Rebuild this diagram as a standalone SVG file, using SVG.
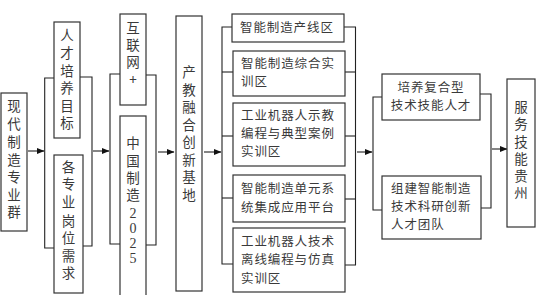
<svg xmlns="http://www.w3.org/2000/svg" width="536" height="295" viewBox="0 0 536 295">
<defs>
<style>
.box{fill:#fff;stroke:#333;stroke-width:1.2}
.ln{fill:none;stroke:#222;stroke-width:1.1}
.t{font-family:"Noto Sans CJK SC","Noto Sans",sans-serif;font-size:12.5px;letter-spacing:0.9px;fill:#3a3a3a}
.c{text-anchor:middle}
.v{font-family:"Noto Sans CJK SC","Noto Sans",sans-serif;font-size:13.5px;fill:#3a3a3a;text-anchor:middle}
.d{font-family:"Liberation Serif",serif;font-size:14px;fill:#3a3a3a;text-anchor:middle}
</style>
<marker id="ah" viewBox="0 0 8 8" refX="7.5" refY="4" markerWidth="8" markerHeight="8" markerUnits="userSpaceOnUse" orient="auto">
<path d="M0,0.8 L8,4 L0,7.2 Z" fill="#111"/>
</marker>
</defs>
<rect width="536" height="295" fill="#fff"/>

<g id="connectors">
<line class="ln" x1="28" y1="151" x2="44" y2="151" marker-end="url(#ah)"/>
<polyline class="ln" points="54,78 44.7,78 44.7,248 54,248"/>
<polyline class="ln" points="80,77 92,77 92,246 83,246"/>
<line class="ln" x1="93" y1="151" x2="109" y2="151" marker-end="url(#ah)"/>
<polyline class="ln" points="120,74 110,74 110,244 120,244"/>
<polyline class="ln" points="146,75 156,75 156,245 146,245"/>
<line class="ln" x1="158" y1="152" x2="174" y2="152" marker-end="url(#ah)"/>
<line class="ln" x1="204" y1="152" x2="221" y2="152" marker-end="url(#ah)"/>
<polyline class="ln" points="232,27 222,27 222,264 233,264"/>
<line class="ln" x1="222" y1="72" x2="233" y2="72"/>
<line class="ln" x1="222" y1="136" x2="233" y2="136"/>
<line class="ln" x1="222" y1="198" x2="233" y2="198"/>
<polyline class="ln" points="344,27 355.5,27 355.5,265 345,265"/>
<line class="ln" x1="345" y1="72" x2="355.5" y2="72"/>
<line class="ln" x1="345" y1="136" x2="355.5" y2="136"/>
<line class="ln" x1="345" y1="199" x2="355.5" y2="199"/>
<line class="ln" x1="357" y1="152" x2="372" y2="152" marker-end="url(#ah)"/>
<polyline class="ln" points="382,97 373,97 373,210 382,210"/>
<polyline class="ln" points="480,94 491,94 491,208 481,208"/>
<line class="ln" x1="492" y1="149" x2="507" y2="149" marker-end="url(#ah)"/>
</g>

<g id="n1">
<rect class="box" x="1" y="93" width="26" height="138"/>
<text class="v" x="14" y="111">现</text><text class="v" x="14" y="129">代</text><text class="v" x="14" y="147">制</text><text class="v" x="14" y="165">造</text><text class="v" x="14" y="182">专</text><text class="v" x="14" y="200">业</text><text class="v" x="14" y="217">群</text>
</g>

<g id="n2">
<rect class="box" x="54" y="22" width="26" height="116"/>
<text class="v" x="67" y="40">人</text><text class="v" x="67" y="58">才</text><text class="v" x="67" y="76">培</text><text class="v" x="67" y="93">养</text><text class="v" x="67" y="111">目</text><text class="v" x="67" y="128">标</text>
</g>

<g id="n3">
<rect class="box" x="54" y="155" width="29" height="138"/>
<text class="v" x="68.5" y="172">各</text><text class="v" x="68.5" y="189">专</text><text class="v" x="68.5" y="207">业</text><text class="v" x="68.5" y="226">岗</text><text class="v" x="68.5" y="243">位</text><text class="v" x="68.5" y="261">需</text><text class="v" x="68.5" y="278">求</text>
</g>

<g id="n4">
<rect class="box" x="120" y="14" width="26" height="91"/>
<text class="v" x="133" y="33">互</text><text class="v" x="133" y="50">联</text><text class="v" x="133" y="67">网</text><text class="v" x="133" y="84">+</text>
</g>

<g id="n5">
<rect class="box" x="120" y="116" width="26" height="185"/>
<text class="v" x="133" y="148">中</text><text class="v" x="133" y="166">国</text><text class="v" x="133" y="183">制</text><text class="v" x="133" y="200">造</text>
<text class="d" x="133" y="218">2</text><text class="d" x="133" y="233">0</text><text class="d" x="133" y="248">2</text><text class="d" x="133" y="263">5</text>
</g>

<g id="n6">
<rect class="box" x="176" y="16" width="26" height="275"/>
<text class="v" x="189" y="77">产</text><text class="v" x="189" y="95">教</text><text class="v" x="189" y="112">融</text><text class="v" x="189" y="130">合</text><text class="v" x="189" y="147">创</text><text class="v" x="189" y="165">新</text><text class="v" x="189" y="182">基</text><text class="v" x="189" y="200">地</text>
</g>

<g id="n7">
<rect class="box" x="232" y="14" width="112" height="28"/>
<text class="t" x="240" y="32">智能制造产线区</text>
</g>

<g id="n8">
<rect class="box" x="233" y="51" width="112" height="45"/>
<text class="t" x="241" y="68">智能制造综合实</text>
<text class="t" x="241" y="86">训区</text>
</g>

<g id="n9">
<rect class="box" x="233" y="103" width="112" height="63"/>
<text class="t" x="241" y="120">工业机器人示教</text>
<text class="t" x="241" y="138">编程与典型案例</text>
<text class="t" x="241" y="156">实训区</text>
</g>

<g id="n10">
<rect class="box" x="233" y="175" width="112" height="47"/>
<text class="t" x="241" y="193">智能制造单元系</text>
<text class="t" x="241" y="212">统集成应用平台</text>
</g>

<g id="n11">
<rect class="box" x="233" y="228" width="112" height="64"/>
<text class="t" x="241" y="246">工业机器人技术</text>
<text class="t" x="241" y="264">离线编程与仿真</text>
<text class="t" x="241" y="283">实训区</text>
</g>

<g id="n12">
<rect class="box" x="382" y="74" width="98" height="46"/>
<text class="t c" x="431" y="92">培养复合型</text>
<text class="t c" x="431" y="110">技术技能人才</text>
</g>

<g id="n13">
<rect class="box" x="382" y="176" width="99" height="63"/>
<text class="t" x="391" y="193">组建智能制造</text>
<text class="t" x="391" y="211">技术科研创新</text>
<text class="t" x="391" y="229">人才团队</text>
</g>

<g id="n14">
<rect class="box" x="507" y="79" width="28" height="148"/>
<text class="v" x="521" y="112">服</text><text class="v" x="521" y="129">务</text><text class="v" x="521" y="147">技</text><text class="v" x="521" y="164">能</text><text class="v" x="521" y="181">贵</text><text class="v" x="521" y="198">州</text>
</g>
</svg>
